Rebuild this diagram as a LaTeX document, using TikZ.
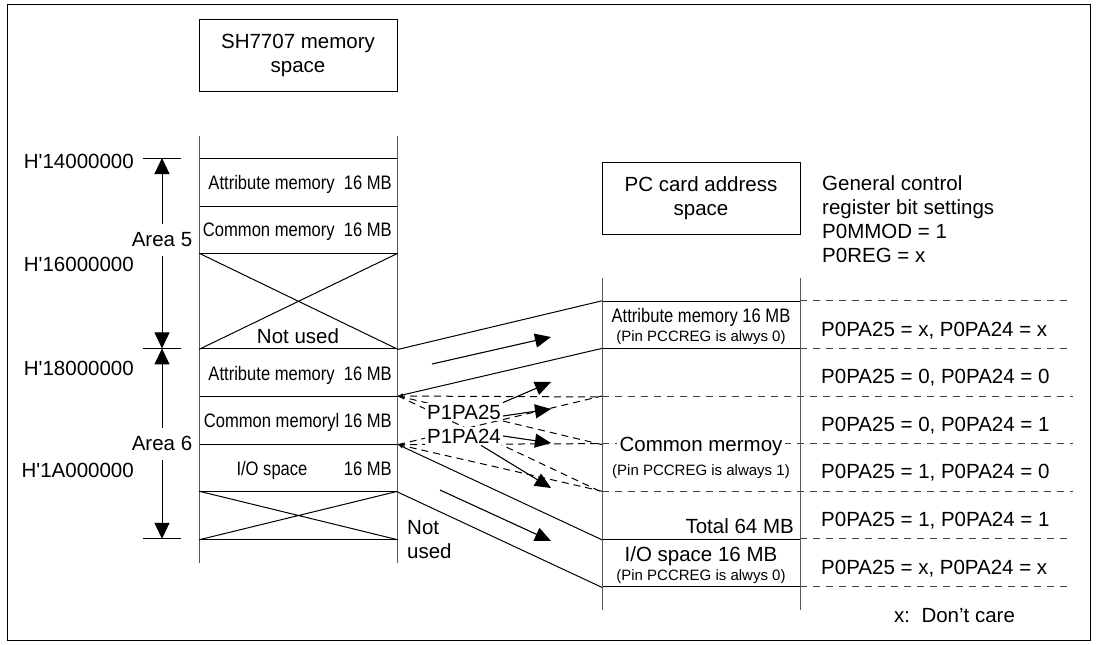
\documentclass[tikz,border=0pt]{standalone}
\usepackage{fontspec}
\setmainfont{Liberation Sans}
\newfontfamily\narrowfont[FakeStretch=0.85]{Liberation Sans}
\usetikzlibrary{arrows.meta}
\newcommand{\regsize}{\fontsize{20.5}{24}\selectfont}
\newcommand{\narsize}{\narrowfont\fontsize{19.5}{22}\selectfont}
\newcommand{\pinsize}{\fontsize{15}{18}\selectfont}
\tikzset{
  titlebox/.style={draw, line width=1pt, minimum width=198pt,
                   minimum height=72pt, align=center, font=\regsize},
  memrow/.style={draw, line width=1pt, minimum width=198pt,
                 minimum height=#1, inner sep=0pt, anchor=north west},
  memrow/.default=47.6pt,
  regtext/.style={font=\regsize, inner sep=1pt},
  nartext/.style={font=\narsize, inner sep=1pt},
  pintext/.style={font=\pinsize, inner sep=1pt},
  areatext/.style={font=\regsize, fill=white, inner sep=1pt,
                   minimum height=32pt},
  colline/.style={line width=1pt, draw=black!65},
  mapline/.style={line width=1pt},
  mapdash/.style={line width=1pt, dash pattern=on 7pt off 5pt},
  tabdash/.style={line width=1pt, draw=black!75, dash pattern=on 7pt off 6pt},
  bigarrow/.style={line width=1.1pt, -{Triangle[length=16pt,width=14pt]}},
  dimarrow/.style={line width=1pt,
                   {Triangle[length=16pt,width=15pt]}-{Triangle[length=16pt,width=15pt]}},
  smalltip/.style={{Latex[length=5pt,width=3.5pt]}-},
}

\begin{document}
\begin{tikzpicture}[x=1pt, y=-1pt]
  \useasboundingbox (0,0) rectangle (1096,645);
  \draw[line width=1pt] (7,4) rectangle (1090,640);

  % Titles
  \node[titlebox] (shtitle) at (298,55) {SH7707 memory\\space};
  \node[titlebox] (pctitle) at (701,198) {PC card address\\space};

  % SH7707 memory space
  \node[memrow] (lattr5) at (199,158) {};
  \node[memrow] (lcomm5) at (199,205.6) {};
  \node[memrow=95.2pt] (lnu5) at (199,253.2) {};
  \node[memrow] (lattr6) at (199,348.4) {};
  \node[memrow] (lcomm6) at (199,396) {};
  \node[memrow] (lio6) at (199,443.6) {};
  \node[memrow] (lnu6) at (199,491.2) {};
  \draw[colline] (199,136) -- (199,563);
  \draw[colline] (397,136) -- (397,563);
  \draw[mapline] (lnu5.north west) -- (lnu5.south east)
                 (lnu5.south west) -- (lnu5.north east);
  \draw[mapline] (lnu6.north west) -- (lnu6.south east)
                 (lnu6.south west) -- (lnu6.north east);

  \node[nartext, anchor=base east] (tattr5) at (393,189) {Attribute memory\ \ 16 MB};
  \node[nartext, anchor=base east] (tcomm5) at (393,236.4) {Common memory\ \ 16 MB};
  \node[regtext] (tnu5) at (298,336) {Not used};
  \node[nartext, anchor=base east] (tattr6) at (393,380.2) {Attribute memory\ \ 16 MB};
  \node[nartext, anchor=base east] (tcomm6) at (393,427.8) {Common memoryl 16 MB};
  \node[nartext, anchor=base] (tio6) at (272,475.4) {I/O space};
  \node[nartext, anchor=base east] (tio6mb) at (393,475.4) {16 MB};
  \node[regtext, anchor=north west, align=left] (tnu6) at (406,519) {Not\\used};

  % Addresses and areas
  \node[regtext, anchor=base east] (h14) at (135,168) {H\textquotesingle 14000000};
  \node[regtext, anchor=base east] (h16) at (135,271) {H\textquotesingle 16000000};
  \node[regtext, anchor=base east] (h18) at (135,375) {H\textquotesingle 18000000};
  \node[regtext, anchor=base east] (h1a) at (135,477) {H\textquotesingle 1A000000};
  \coordinate (t14) at (162,158);
  \coordinate (t18) at (162,348.4);
  \coordinate (t1c) at (162,538.8);
  \draw[mapline] (143,158) -- (181,158);
  \draw[mapline] (143,348.4) -- (181,348.4);
  \draw[mapline] (143,538.8) -- (181,538.8);
  \draw[dimarrow] (t14) -- node[areatext, pos=0.43] (area5) {Area 5} (t18);
  \draw[dimarrow] (t18) -- node[areatext] (area6) {Area 6} (t1c);

  % PC card address space
  \node[memrow] (rattr) at (602,300.8) {};
  \node[memrow, draw=none] (rq1) at (602,348.4) {};
  \node[memrow, draw=none] (rq2) at (602,396) {};
  \node[memrow, draw=none] (rq3) at (602,443.6) {};
  \node[memrow, draw=none] (rq4) at (602,491.2) {};
  \node[memrow] (rio) at (602,538.8) {};
  \draw[colline] (602,278) -- (602,610);
  \draw[colline] (800,278) -- (800,610);

  % Bit setting rows
  \foreach \y in {396,443.6,491.2}
    \draw[tabdash] (602,\y) -- (1073,\y);
  \foreach \y in {300.8,348.4,538.8,586.4}
    \draw[tabdash] (800,\y) -- (1073,\y);

  \node[nartext, anchor=base] (tattr) at (701,322) {Attribute memory 16 MB};
  \node[pintext, anchor=base] (pin0a) at (701,341) {(Pin PCCREG is alwys 0)};
  \node[regtext, anchor=base, fill=white, inner xsep=3pt] (tcomm) at (701,451) {Common mermoy};
  \node[pintext, anchor=base] (pin1) at (701,475) {(Pin PCCREG is always 1)};
  \node[regtext, anchor=base east] (ttotal) at (795,533) {Total 64 MB};
  \node[regtext, anchor=base] (tio) at (701,561) {I/O space 16 MB};
  \node[pintext, anchor=base] (pin0b) at (701,580) {(Pin PCCREG is alwys 0)};

  \node[regtext, anchor=north west, align=left] (gcr) at (821,174)
    {General control\\register bit settings\\P0MMOD = 1\\P0REG = x};
  \node[regtext, anchor=base west] (set1) at (820,336) {P0PA25 = x, P0PA24 = x};
  \node[regtext, anchor=base west] (set2) at (820,383.6) {P0PA25 = 0, P0PA24 = 0};
  \node[regtext, anchor=base west] (set3) at (820,431.2) {P0PA25 = 0, P0PA24 = 1};
  \node[regtext, anchor=base west] (set4) at (820,478.8) {P0PA25 = 1, P0PA24 = 0};
  \node[regtext, anchor=base west] (set5) at (820,526.4) {P0PA25 = 1, P0PA24 = 1};
  \node[regtext, anchor=base west] (set6) at (820,574) {P0PA25 = x, P0PA24 = x};
  \node[regtext, anchor=base west] (xdc) at (893,622) {x:\ \ Don't care};

  % Mapping
  \draw[mapline] (lnu5.south east) -- (rattr.north west);
  \draw[mapline, smalltip] (lcomm6.north east) -- (rq1.north west);
  \draw[mapdash] (lcomm6.north east) -- (rq1.south west);
  \draw[mapdash] (lcomm6.north east) -- (rq2.south west);
  \draw[mapdash] (lcomm6.north east) -- (rq3.south west);
  \draw[mapdash] (lcomm6.south east) -- (rq2.north west);
  \draw[mapdash] (lcomm6.south east) -- (rq3.north west);
  \draw[mapdash] (lcomm6.south east) -- (rq4.north west);
  \draw[mapline, smalltip] (lcomm6.south east) -- (rq4.south west);
  \draw[mapline] (lio6.south east) -- (rio.south west);

  % Address pins
  \node[regtext, fill=white, inner sep=2pt] (p25) at (464,412) {P1PA25};
  \node[regtext, fill=white, inner sep=2pt] (p24) at (464,436) {P1PA24};

  \coordinate (a1s) at (432,364);
  \coordinate (a1e) at (551,337);
  \coordinate (a2e) at (551,382);
  \coordinate (a3e) at (551,409);
  \coordinate (a4e) at (551,443);
  \coordinate (a5e) at (551,488);
  \coordinate (a6s) at (440,490);
  \coordinate (a6e) at (551,541);
  \draw[bigarrow] (a1s) -- (a1e);
  \draw[bigarrow] (p25.north east) -- (a2e);
  \draw[bigarrow] ([yshift=-4pt]p25.east) -- (a3e);
  \draw[bigarrow] (p24.east) -- (a4e);
  \draw[bigarrow] ([xshift=-22pt]p24.south east) -- (a5e);
  \draw[bigarrow] (a6s) -- (a6e);

\end{tikzpicture}
\end{document}
